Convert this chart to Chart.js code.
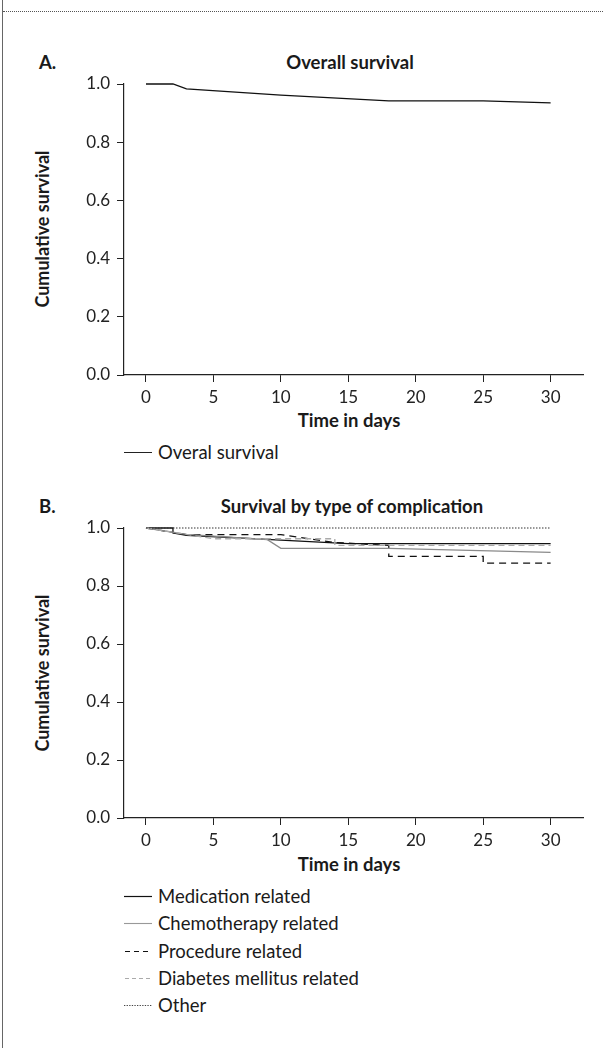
<!DOCTYPE html>
<html>
<head>
<meta charset="utf-8">
<script src="https://cdn.jsdelivr.net/npm/chart.js@4.4.1/dist/chart.umd.min.js"></script>
<style>
  html, body { margin:0; padding:0; background:#fff; }
  body { width:603px; height:1048px; position:relative; overflow:hidden; font-family:Lato, "Open Sans", sans-serif; color:#1a1a1a; }
  .frame-left { position:absolute; left:2px; top:0; width:0; height:1048px; border-left:1.5px solid #666; }
  .frame-top  { position:absolute; left:3px; top:11px; width:600px; height:0; border-top:1px dotted #555; }
  .lbl { position:absolute; font-weight:700; font-size:18.5px; line-height:20px; transform:translateY(-50%); }
  .ytitle { position:absolute; font-weight:700; font-size:18px; white-space:nowrap; transform:translate(-50%,-50%) rotate(-90deg); }
  .xtitle { position:absolute; font-weight:700; font-size:18.5px; line-height:20px; white-space:nowrap; transform:translate(-50%,-50%); }
  .ttl { position:absolute; font-weight:700; font-size:18.5px; line-height:20px; white-space:nowrap; transform:translate(-50%,-50%); }
  .leg { position:absolute; left:124px; font-size:18.5px; line-height:20px; white-space:nowrap; display:flex; align-items:center; transform:translateY(-50%); }
  .leg svg { margin-right:6px; }
  canvas { position:absolute; left:0; }
</style>
</head>
<body>
<div class="frame-left"></div>
<div class="frame-top"></div>

<!-- Panel A -->
<div class="lbl" style="left:39px;top:62px">A.</div>
<div class="ttl" style="left:350px;top:62px">Overall survival</div>
<div class="ytitle" style="left:42px;top:229px">Cumulative survival</div>
<div class="xtitle" style="left:349px;top:420px">Time in days</div>
<div style="position:absolute;top:0;left:0;width:603px;height:430px"><canvas id="chart-a" width="603" height="430"></canvas></div>
<div class="leg" style="top:452px"><svg width="28" height="5"><line x1="0" y1="2.5" x2="28" y2="2.5" stroke="#222" stroke-width="1"/></svg>Overal survival</div>

<!-- Panel B -->
<div class="lbl" style="left:39px;top:506px">B.</div>
<div class="ttl" style="left:352px;top:506px">Survival by type of complication</div>
<div class="ytitle" style="left:42px;top:673px">Cumulative survival</div>
<div class="xtitle" style="left:349px;top:864px">Time in days</div>
<div style="position:absolute;top:444px;left:0;width:603px;height:430px"><canvas id="chart-b" width="603" height="430"></canvas></div>
<div class="leg" style="top:896px"><svg width="28" height="5"><line x1="0" y1="2.5" x2="28" y2="2.5" stroke="#111" stroke-width="1.2"/></svg>Medication related</div>
<div class="leg" style="top:923px"><svg width="28" height="5"><line x1="0" y1="2.5" x2="28" y2="2.5" stroke="#999" stroke-width="1.1"/></svg>Chemotherapy related</div>
<div class="leg" style="top:951px"><svg width="28" height="5"><line x1="1" y1="2.5" x2="28" y2="2.5" stroke="#111" stroke-width="1.2" stroke-dasharray="5 4"/></svg>Procedure related</div>
<div class="leg" style="top:978px"><svg width="28" height="5"><line x1="1" y1="2.5" x2="28" y2="2.5" stroke="#aaa" stroke-width="1.2" stroke-dasharray="4 3"/></svg>Diabetes mellitus related</div>
<div class="leg" style="top:1005px"><svg width="28" height="5"><line x1="0" y1="2.5" x2="28" y2="2.5" stroke="#444" stroke-width="1.2" stroke-dasharray="1.3 1.3"/></svg>Other</div>

<script>
  // ---- data ----
  var xTicks = [0, 5, 10, 15, 20, 25, 30];
  var yTicks = [0, 0.2, 0.4, 0.6, 0.8, 1.0];

  var overallT = [0, 2, 3, 10, 18, 25, 30];
  var overallS = [1.0, 1.0, 0.983, 0.962, 0.942, 0.942, 0.935];

  var medT = [0, 2, 2, 3, 10, 15, 30];
  var medS = [1.0, 1.0, 0.983, 0.975, 0.958, 0.946, 0.946];

  var chemoT = [0, 3, 9, 10, 18, 30];
  var chemoS = [1.0, 0.978, 0.96, 0.93, 0.93, 0.916];

  var procT = [0, 3, 10, 14, 18, 18, 25, 25, 30];
  var procS = [1.0, 0.977, 0.977, 0.95, 0.94, 0.902, 0.902, 0.879, 0.879];

  var diabT = [0, 5, 14, 14, 30];
  var diabS = [1.0, 0.963, 0.963, 0.94, 0.94];

  var otherT = [0, 30];
  var otherS = [1.0, 1.0];

  function pts(t, s) {
    return t.map(function (x, i) { return { x: x, y: s[i] }; });
  }

  function series(t, s, color, width, dash) {
    return {
      data: pts(t, s), borderColor: color, borderWidth: width, borderDash: dash || [],
      pointRadius: 0, fill: false, tension: 0, clip: false
    };
  }

  var tickFont = { family: 'Lato, "Open Sans", sans-serif', size: 17 };

  function makeOptions(bottom) {
    return {
      responsive: false, animation: false,
      layout: { padding: { top: 84, left: 0, right: 20, bottom: 0 } },
      plugins: { legend: { display: false }, tooltip: { enabled: false } },
      scales: {
        x: {
          type: 'linear', min: -1.63, max: 32.4,
          afterBuildTicks: function (ax) { ax.ticks = xTicks.map(function (v) { return { value: v }; }); },
          afterFit: function (ax) { ax.height = 430 - bottom; },
          grid: { drawOnChartArea: false, drawTicks: true, tickLength: 7, color: '#222', lineWidth: 1 },
          border: { display: true, color: '#222', width: 1.2 },
          ticks: { font: tickFont, color: '#222', padding: 5, maxRotation: 0 }
        },
        y: {
          type: 'linear', min: 0, max: 1,
          afterBuildTicks: function (ax) { ax.ticks = yTicks.map(function (v) { return { value: v }; }); },
          afterFit: function (ax) { ax.width = 124; },
          grid: { drawOnChartArea: false, drawTicks: true, tickLength: 7, color: '#222', lineWidth: 1 },
          border: { display: true, color: '#222', width: 1.2 },
          ticks: { font: tickFont, color: '#222', padding: 7, callback: function (v) { return v.toFixed(1); } }
        }
      }
    };
  }

  new Chart(document.getElementById('chart-a'), {
    type: 'line',
    data: { datasets: [ series(overallT, overallS, '#111', 1.3) ] },
    options: makeOptions(375)
  });

  new Chart(document.getElementById('chart-b'), {
    type: 'line',
    data: {
      datasets: [
        series(otherT, otherS, '#333', 1.2, [1.5, 1.5]),
        series(diabT, diabS, '#aaa', 1.3, [6, 4]),
        series(chemoT, chemoS, '#8a8a8a', 1.3),
        series(procT, procS, '#111', 1.3, [7, 5]),
        series(medT, medS, '#111', 1.3)
      ]
    },
    options: makeOptions(374)
  });
</script>
</body>
</html>
